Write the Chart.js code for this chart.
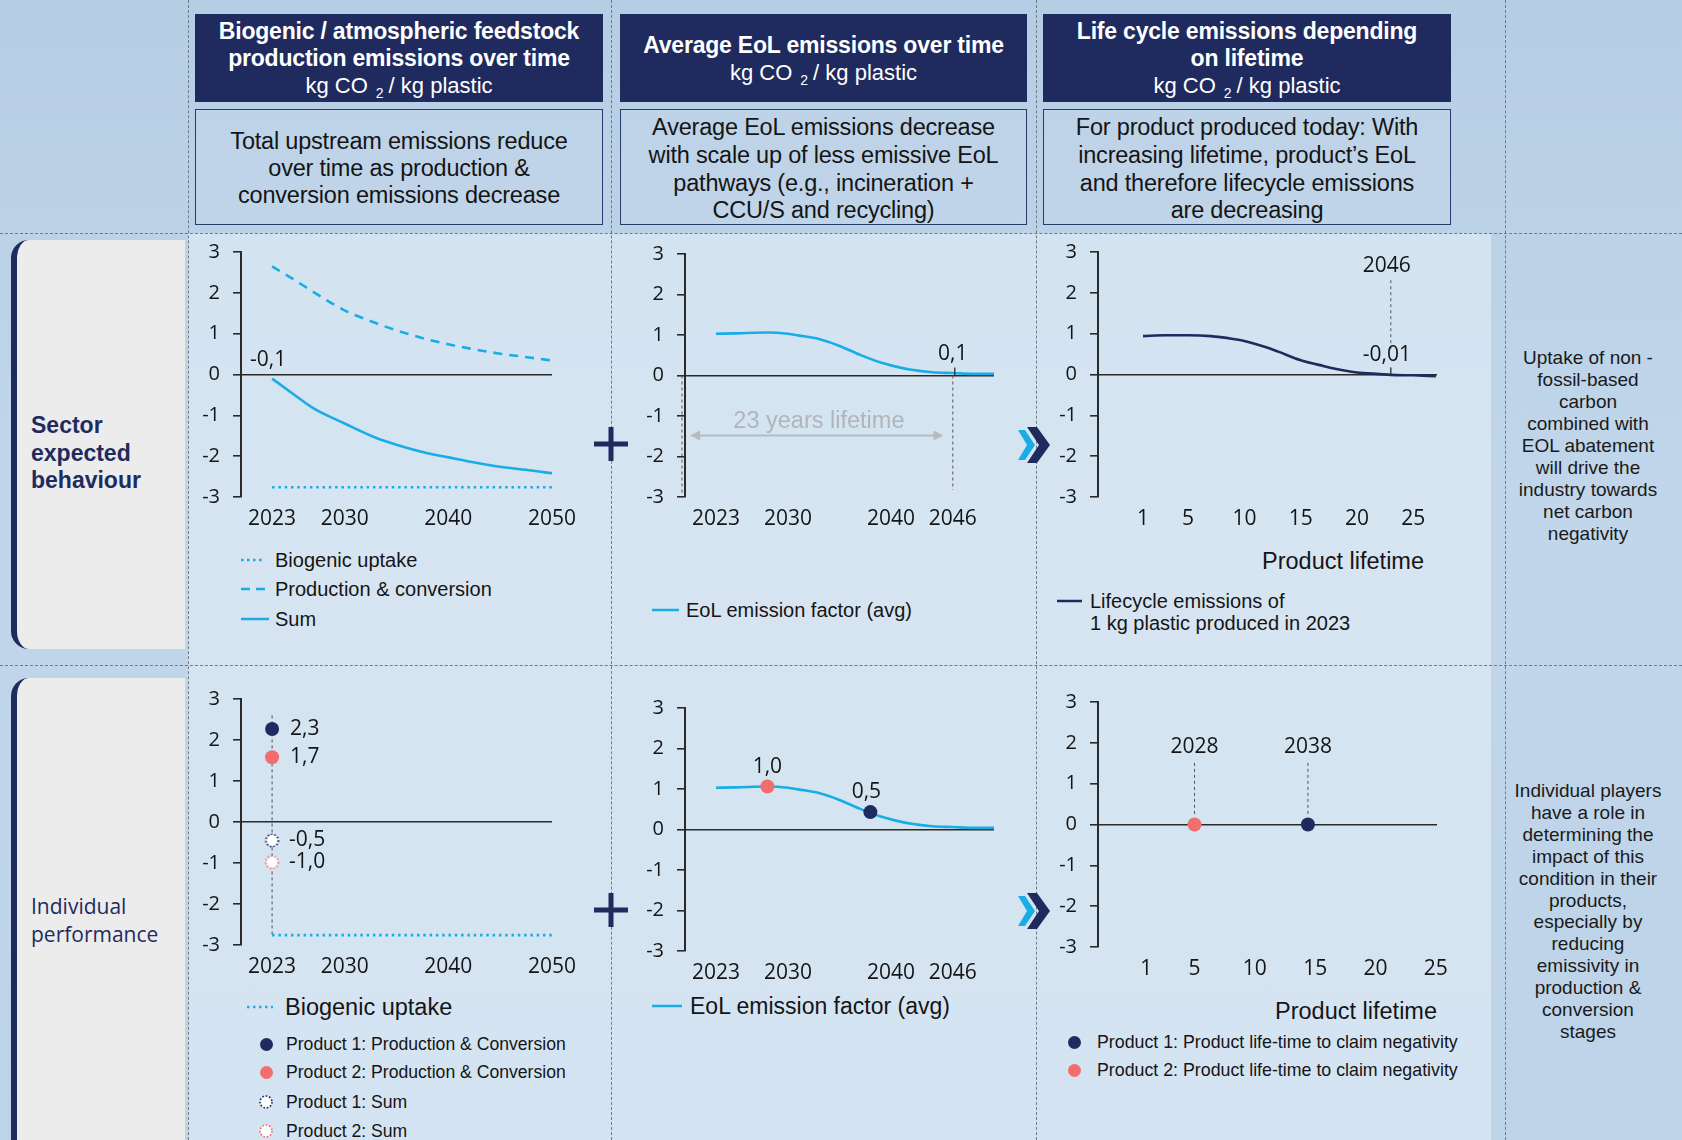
<!DOCTYPE html>
<html><head><meta charset="utf-8">
<title>Feedstock, EoL and lifecycle emissions</title>
<script src="https://cdn.jsdelivr.net/npm/chart.js@4.4.1/dist/chart.umd.min.js"></script>
<style>
html,body{margin:0;padding:0;}
body{width:1682px;height:1140px;overflow:hidden;position:relative;
 background:linear-gradient(180deg,#b6cee4 0%,#c1d6ea 45%,#bdd3e8 100%);
 font-family:'Liberation Sans',Arial,sans-serif;color:#151515;}
.a{position:absolute;white-space:nowrap;}
.panel{left:188px;top:233px;width:1303px;height:907px;background:rgba(236,243,249,0.5);}
.hl{height:0;border-top:1px dashed #6f7c88;left:0;width:1682px;}
.vl{width:0;border-left:1px dashed #6f7c88;top:0;height:1140px;}
.hdr{background:#1f2b5e;color:#fff;text-align:center;font-size:23px;line-height:27px;box-sizing:border-box;letter-spacing:-0.2px;}
.hdr b{font-weight:700;}
.hdr .u{font-size:22px;letter-spacing:0;}
.hdr sub{font-size:14px;vertical-align:-5px;line-height:0;margin:0 5px 0 8px;}
.desc{border:1.5px solid #2b3a6e;text-align:center;font-size:23.5px;line-height:27px;box-sizing:border-box;color:#151515;background:rgba(255,255,255,0.08);letter-spacing:-0.2px;}
.side{background:#ececed;border-left:6px solid #1f2b5e;border-radius:18px 0 0 18px;box-sizing:border-box;}
.lg{font-size:20px;line-height:24px;color:#151515;}
.note{left:1500px;width:176px;text-align:center;font-size:19px;line-height:22px;color:#1a1a1a;}
.dot{border-radius:50%;box-sizing:border-box;}
</style></head>
<body>
<div class="a panel"></div>

<!-- left side panels -->
<div class="a side" style="left:11px;top:240px;width:174px;height:409px;"></div>
<div class="a side" style="left:11px;top:678px;width:174px;height:480px;"></div>
<div class="a" style="left:31px;top:412px;font-weight:700;font-size:23px;line-height:27.5px;color:#1f2b5e;">Sector<br>expected<br>behaviour</div>
<div class="a" style="left:31px;top:892px;font-family:'Open Sans','Noto Sans',sans-serif;font-size:21px;line-height:28px;color:#1f2b5e;">Individual<br>performance</div>

<!-- separators -->
<div class="a hl" style="top:233px;"></div>
<div class="a hl" style="top:665px;"></div>
<div class="a vl" style="left:188px;"></div>
<div class="a vl" style="left:611px;"></div>
<div class="a vl" style="left:1036px;"></div>
<div class="a vl" style="left:1505px;"></div>

<!-- headers -->
<div class="a hdr" style="left:195px;top:14px;width:408px;height:88px;padding-top:4px;"><b>Biogenic / atmospheric feedstock</b><br><b>production emissions over time</b><br><span class="u">kg CO<sub>2</sub>/ kg plastic</span></div>
<div class="a hdr" style="left:620px;top:14px;width:407px;height:88px;padding-top:18px;"><b>Average EoL emissions over time</b><br><span class="u">kg CO<sub>2</sub>/ kg plastic</span></div>
<div class="a hdr" style="left:1043px;top:14px;width:408px;height:88px;padding-top:4px;"><b>Life cycle emissions depending</b><br><b>on lifetime</b><br><span class="u">kg CO<sub>2</sub>/ kg plastic</span></div>

<div class="a desc" style="left:195px;top:109px;width:408px;height:116px;padding-top:18px;">Total upstream emissions reduce<br>over time as production &amp;<br>conversion emissions decrease</div>
<div class="a desc" style="left:620px;top:109px;width:407px;height:116px;padding-top:4px;line-height:27.8px;">Average EoL emissions decrease<br>with scale up of less emissive EoL<br>pathways (e.g., incineration +<br>CCU/S and recycling)</div>
<div class="a desc" style="left:1043px;top:109px;width:408px;height:116px;padding-top:4px;line-height:27.8px;">For product produced today: With<br>increasing lifetime, product’s EoL<br>and therefore lifecycle emissions<br>are decreasing</div>

<!-- right notes -->
<div class="a note" style="top:347px;">Uptake of non -<br>fossil-based<br>carbon<br>combined with<br>EOL abatement<br>will drive the<br>industry towards<br>net carbon<br>negativity</div>
<div class="a note" style="top:780px;line-height:21.9px;">Individual players<br>have a role in<br>determining the<br>impact of this<br>condition in their<br>products,<br>especially by<br>reducing<br>emissivity in<br>production &amp;<br>conversion<br>stages</div>

<!-- plus signs and chevrons -->
<svg class="a" style="left:592px;top:425px;" width="38" height="38"><path d="M19 2 V36 M2 19 H36" stroke="#1f2b5e" stroke-width="5"/></svg>
<svg class="a" style="left:592px;top:891px;" width="38" height="38"><path d="M19 2 V36 M2 19 H36" stroke="#1f2b5e" stroke-width="5"/></svg>
<svg class="a" style="left:1018px;top:426px;" width="36" height="38"><polygon points="0,4 7,4 17,19 7,34 0,34 9,19" fill="#1aade5"/><polygon points="9,1 19,1 32,19 19,37 9,37 21,19" fill="#1f2b5e"/></svg>
<svg class="a" style="left:1018px;top:892px;" width="36" height="38"><polygon points="0,4 7,4 17,19 7,34 0,34 9,19" fill="#1aade5"/><polygon points="9,1 19,1 32,19 19,37 9,37 21,19" fill="#1f2b5e"/></svg>

<!-- legends: top row -->
<svg class="a" style="left:241px;top:557px;" width="28" height="6"><line x1="0" y1="3" x2="22" y2="3" stroke="#1aade5" stroke-width="2.5" stroke-dasharray="2.5 3.5"/></svg>
<div class="a lg" style="left:275px;top:548px;">Biogenic uptake</div>
<svg class="a" style="left:241px;top:586px;" width="28" height="6"><line x1="0" y1="3" x2="28" y2="3" stroke="#1aade5" stroke-width="2.5" stroke-dasharray="9 6"/></svg>
<div class="a lg" style="left:275px;top:577px;">Production &amp; conversion</div>
<svg class="a" style="left:241px;top:616px;" width="28" height="6"><line x1="0" y1="3" x2="28" y2="3" stroke="#1aade5" stroke-width="2.5"/></svg>
<div class="a lg" style="left:275px;top:607px;">Sum</div>

<svg class="a" style="left:652px;top:607px;" width="28" height="6"><line x1="0" y1="3" x2="27" y2="3" stroke="#1aade5" stroke-width="2.5"/></svg>
<div class="a lg" style="left:686px;top:598px;">EoL emission factor (avg)</div>

<div class="a" style="left:1224px;top:547px;width:200px;text-align:right;font-size:23.5px;line-height:28px;">Product lifetime</div>
<svg class="a" style="left:1057px;top:598px;" width="26" height="6"><line x1="0" y1="3" x2="25" y2="3" stroke="#1f2b5e" stroke-width="2.5"/></svg>
<div class="a lg" style="left:1090px;top:590px;line-height:22px;">Lifecycle emissions of<br>1 kg plastic produced in 2023</div>

<!-- legends: bottom row -->
<svg class="a" style="left:247px;top:1004px;" width="28" height="6"><line x1="0" y1="3" x2="26" y2="3" stroke="#1aade5" stroke-width="2.5" stroke-dasharray="2.5 3.5"/></svg>
<div class="a lg" style="left:285px;top:992px;font-size:23.5px;line-height:30px;">Biogenic uptake</div>
<div class="a dot" style="left:259.5px;top:1037.5px;width:13px;height:13px;background:#1f2b5e;"></div>
<div class="a lg" style="left:286px;top:1033px;font-size:17.6px;line-height:22px;">Product 1: Production &amp; Conversion</div>
<div class="a dot" style="left:259.5px;top:1065.5px;width:13px;height:13px;background:#f26e6e;"></div>
<div class="a lg" style="left:286px;top:1061px;font-size:17.6px;line-height:22px;">Product 2: Production &amp; Conversion</div>
<svg class="a" style="left:258px;top:1094px;" width="16" height="16"><circle cx="8" cy="8" r="6" fill="#fff" stroke="#1f2b5e" stroke-width="1.6" stroke-dasharray="1.7 1.7"/></svg>
<div class="a lg" style="left:286px;top:1091px;font-size:17.6px;line-height:22px;">Product 1: Sum</div>
<svg class="a" style="left:258px;top:1122.5px;" width="16" height="16"><circle cx="8" cy="8" r="6" fill="#fff" stroke="#f26e6e" stroke-width="1.6" stroke-dasharray="1.7 1.7"/></svg>
<div class="a lg" style="left:286px;top:1120px;font-size:17.6px;line-height:22px;">Product 2: Sum</div>

<svg class="a" style="left:652px;top:1003px;" width="31" height="6"><line x1="0" y1="3" x2="30" y2="3" stroke="#1aade5" stroke-width="2.5"/></svg>
<div class="a lg" style="left:690px;top:991px;font-size:23px;line-height:30px;">EoL emission factor (avg)</div>

<div class="a" style="left:1237px;top:997px;width:200px;text-align:right;font-size:23.5px;line-height:28px;">Product lifetime</div>
<div class="a dot" style="left:1067.5px;top:1035.5px;width:13px;height:13px;background:#1f2b5e;"></div>
<div class="a lg" style="left:1097px;top:1031px;font-size:17.8px;line-height:22px;">Product 1: Product life-time to claim negativity</div>
<div class="a dot" style="left:1067.5px;top:1063.5px;width:13px;height:13px;background:#f26e6e;"></div>
<div class="a lg" style="left:1097px;top:1059px;font-size:17.8px;line-height:22px;">Product 2: Product life-time to claim negativity</div>

<script>
// ---------------- data ----------------
const valueTicks = [-3, -2, -1, 0, 1, 2, 3];
const yearTicks = [2023, 2030, 2040, 2050];
const eolYearTicks = [2023, 2030, 2040, 2046];
const lifetimeTicks = [1, 5, 10, 15, 20, 25];

// Sector: biogenic / atmospheric feedstock
const feedYears = [2023, 2025, 2027, 2030, 2033, 2035, 2038, 2040, 2042, 2045, 2048, 2050];
const productionConversion = [2.65, 2.34, 2.02, 1.57, 1.26, 1.08, 0.86, 0.74, 0.64, 0.51, 0.41, 0.34];
const sumEmissions = [-0.1, -0.47, -0.83, -1.2, -1.55, -1.72, -1.93, -2.03, -2.13, -2.26, -2.35, -2.42];
const biogenicYears = [2023, 2050];
const biogenicUptake = [-2.76, -2.76];
const sumStartLabel = '-0,1';

// Sector: average EoL emissions
const eolYears = [2023, 2025, 2028, 2030, 2031, 2033, 2035, 2037, 2039, 2040, 2042, 2044, 2046, 2048, 2050];
const eolFactor = [1.03, 1.04, 1.06, 1.03, 0.99, 0.9, 0.73, 0.51, 0.32, 0.25, 0.14, 0.08, 0.06, 0.04, 0.04];
const eolMarkYear = 2046;
const eolMarkLabel = '0,1';
const lifetimeSpanLabel = '23 years lifetime';

// Sector: lifecycle emissions by lifetime
const lifetimes = [1, 3, 5, 7, 9, 10, 12, 13, 15, 17, 19, 20, 22, 23, 25, 27];
const lifecycleEmissions = [0.94, 0.96, 0.96, 0.94, 0.87, 0.82, 0.66, 0.56, 0.35, 0.21, 0.09, 0.05, 0.01, -0.01, -0.02, -0.04];
const lifecycleMarkLifetime = 23;
const lifecycleMarkYear = '2046';
const lifecycleMarkLabel = '-0,01';

// Individual performance (Product 1, Product 2)
const productYear = 2023;
const productPC = [2.27, 1.58];
const productPCLabels = ['2,3', '1,7'];
const productSum = [-0.45, -0.98];
const productSumLabels = ['-0,5', '-1,0'];
const productEolYears = [2038, 2028];
const productEolValues = [0.43, 1.06];
const productEolLabels = ['0,5', '1,0'];
const negativityLifetimes = [14.4, 5];
const negativityYears = ['2038', '2028'];

// ---------------- styling ----------------
const NAVY = '#1f2b5e', CYAN = '#1aade5', SALMON = '#f26e6e', AXIS = '#2a2a2a', GUIDE = '#555';
const productColors = [NAVY, SALMON];
const TICK_FONT = {family: "'Open Sans','Noto Sans',sans-serif", size: 21};
const NOTE_FONT = "21px 'Open Sans','Noto Sans',sans-serif";
const pts = (xs, ys) => xs.map((x, i) => ({x, y: ys[i]}));

function dottedCircle(color, r) {
  const s = Math.ceil(r * 2 + 4);
  const c = document.createElement('canvas');
  c.width = s; c.height = s;
  const g = c.getContext('2d');
  g.beginPath(); g.arc(s / 2, s / 2, r, 0, Math.PI * 2);
  g.fillStyle = '#fff'; g.fill();
  g.setLineDash([1.7, 1.7]); g.lineWidth = 1.6; g.strokeStyle = color; g.stroke();
  return c;
}

function drawNotes(chart, items, layer) {
  const {ctx} = chart; const x = chart.scales.x, y = chart.scales.y;
  (items || []).forEach(it => {
    if ((it.layer || 'front') !== layer) return;
    ctx.save();
    if (it.type === 'vline') {
      const px = x.getPixelForValue(it.x) + (it.dx || 0);
      ctx.strokeStyle = it.color || GUIDE; ctx.lineWidth = it.width || 1.2;
      ctx.setLineDash(it.dash || []);
      ctx.beginPath();
      ctx.moveTo(px, y.getPixelForValue(it.y1) + (it.dy1 || 0));
      ctx.lineTo(px, y.getPixelForValue(it.y2) + (it.dy2 || 0));
      ctx.stroke();
    } else if (it.type === 'text') {
      ctx.font = it.font || NOTE_FONT; ctx.fillStyle = it.color || '#151515';
      ctx.textAlign = it.align || 'center'; ctx.textBaseline = 'middle';
      ctx.fillText(it.text, x.getPixelForValue(it.x) + (it.dx || 0), y.getPixelForValue(it.y) + (it.dy || 0));
    } else if (it.type === 'arrow') {
      const x1 = x.getPixelForValue(it.x1), x2 = x.getPixelForValue(it.x2), py = y.getPixelForValue(it.y);
      ctx.strokeStyle = it.color; ctx.fillStyle = it.color; ctx.lineWidth = 2;
      ctx.beginPath(); ctx.moveTo(x1 + 8, py); ctx.lineTo(x2 - 8, py); ctx.stroke();
      ctx.beginPath(); ctx.moveTo(x1, py); ctx.lineTo(x1 + 10, py - 5); ctx.lineTo(x1 + 10, py + 5); ctx.closePath(); ctx.fill();
      ctx.beginPath(); ctx.moveTo(x2, py); ctx.lineTo(x2 - 10, py - 5); ctx.lineTo(x2 - 10, py + 5); ctx.closePath(); ctx.fill();
    }
    ctx.restore();
  });
}
const notesPlugin = {
  id: 'notes',
  beforeDatasetsDraw(chart, args, opts) { drawNotes(chart, opts.items, 'back'); },
  afterDatasetsDraw(chart, args, opts) { drawNotes(chart, opts.items, 'front'); }
};

function makeChart(area, xMin, xMax, xTicks, datasets, notes) {
  const Y_W = 61, PAD_T = 32, PAD_R = 42, X_H = 40;
  const rect = {x: area.l - Y_W, y: area.t - PAD_T, w: area.r + PAD_R - (area.l - Y_W), h: area.b + X_H - (area.t - PAD_T)};
  const c = document.createElement('canvas');
  c.width = rect.w; c.height = rect.h;
  c.style.cssText = `position:absolute;left:${rect.x}px;top:${rect.y}px;width:${rect.w}px;height:${rect.h}px;`;
  document.body.appendChild(c);
  return new Chart(c, {
    type: 'line',
    data: {datasets},
    plugins: [notesPlugin],
    options: {
      responsive: false, animation: false, devicePixelRatio: 1,
      layout: {padding: {left: 0, top: PAD_T, right: PAD_R, bottom: 0}},
      plugins: {legend: {display: false}, tooltip: {enabled: false}, notes: {items: notes}},
      elements: {line: {fill: false}},
      scales: {
        x: {type: 'linear', min: xMin, max: xMax,
          grid: {display: false, drawTicks: false}, border: {display: false},
          afterBuildTicks: s => { s.ticks = xTicks.map(v => ({value: v})); },
          afterFit: s => { s.height = X_H; },
          ticks: {autoSkip: false, maxRotation: 0, padding: 9, color: '#151515', font: TICK_FONT, callback: v => String(v)}},
        y: {type: 'linear', min: -3, max: 3,
          afterBuildTicks: s => { s.ticks = valueTicks.map(v => ({value: v})); },
          afterFit: s => { s.width = Y_W; },
          grid: {drawOnChartArea: true, drawTicks: true, tickLength: 8, lineWidth: 1.6,
            color: ctx => (ctx.tick && ctx.tick.value === 0) ? AXIS : 'rgba(0,0,0,0)', tickColor: AXIS},
          border: {display: true, color: AXIS, width: 2},
          ticks: {padding: 13, color: '#151515', font: {family: TICK_FONT.family, size: 20}}}
      }
    }
  });
}

const lineDs = (xs, ys, color, dash) => ({data: pts(xs, ys), borderColor: color, borderWidth: 2.6,
  borderDash: dash || [], pointRadius: 0, cubicInterpolationMode: 'monotone', fill: false});

// 1. Sector: feedstock
makeChart({l: 241, t: 252, r: 552, b: 497}, 2020, 2050, yearTicks, [
  lineDs(biogenicYears, biogenicUptake, CYAN, [2.5, 3.8]),
  lineDs(feedYears, productionConversion, CYAN, [9, 7]),
  lineDs(feedYears, sumEmissions, CYAN)
], [
  {type: 'text', x: feedYears[0], y: 0, dx: -4, dy: -14, text: sumStartLabel}
]);

// 2. Sector: EoL
makeChart({l: 685, t: 254, r: 994, b: 497}, 2020, 2050, eolYearTicks, [
  lineDs(eolYears, eolFactor, CYAN)
], [
  {type: 'vline', x: 2020, dx: -3, y1: 0, y2: -2.9, dash: [3, 3], width: 1},
  {type: 'vline', x: eolMarkYear, y1: 0, y2: -2.83, dash: [3, 3], width: 1},
  {type: 'vline', x: eolMarkYear, dx: 2, y1: 0, y2: 0, dy2: -8, width: 1.3, color: AXIS},
  {type: 'text', x: eolMarkYear, y: 0, dy: -21, text: eolMarkLabel},
  {type: 'arrow', x1: 2020.5, x2: 2045.1, y: -1.48, color: '#b6bbc0'},
  {type: 'text', x: 2033, y: -1.48, dy: -14, text: lifetimeSpanLabel, color: '#b0b5ba', font: "23.5px 'Liberation Sans',Arial,sans-serif"}
]);

// 3. Sector: lifecycle
makeChart({l: 1098, t: 252, r: 1437, b: 497}, -3, 27.1, lifetimeTicks, [
  lineDs(lifetimes, lifecycleEmissions, NAVY)
], [
  {type: 'vline', x: lifecycleMarkLifetime, y1: 0.62, y2: 2.38, dash: [3, 3], width: 1},
  {type: 'vline', x: lifecycleMarkLifetime, y1: 0, y2: 0, dy2: -7, width: 1.3, color: AXIS},
  {type: 'text', x: lifecycleMarkLifetime, y: 2.38, dx: -4, dy: -11, text: lifecycleMarkYear},
  {type: 'text', x: lifecycleMarkLifetime, y: 0, dx: -4, dy: -19, text: lifecycleMarkLabel}
]);

// 4. Individual: production & conversion vs sum
const indivNotes = [{type: 'vline', layer: 'back', x: productYear, y1: 2.6, y2: biogenicUptake[0], dash: [3, 3], width: 1.2, color: '#666'}];
productPC.forEach((v, i) => indivNotes.push({type: 'text', x: productYear, y: v, dx: 18, text: productPCLabels[i], align: 'left'}));
productSum.forEach((v, i) => indivNotes.push({type: 'text', x: productYear, y: v, dx: 17, text: productSumLabels[i], align: 'left'}));
makeChart({l: 241, t: 699, r: 552, b: 945}, 2020, 2050, yearTicks, [
  ...productPC.map((v, i) => ({data: [{x: productYear, y: v}], showLine: false, pointRadius: 7,
    pointBackgroundColor: productColors[i], pointBorderWidth: 0, order: 0})),
  ...productSum.map((v, i) => ({data: [{x: productYear, y: v}], showLine: false, pointRadius: 7,
    pointStyle: dottedCircle(productColors[i], 6.2), order: 0})),
  Object.assign(lineDs(biogenicYears, biogenicUptake, CYAN, [2.5, 3.8]), {order: 5})
], indivNotes);

// 5. Individual: EoL
const eolNotes = productEolYears.map((yr, i) => ({type: 'text', x: yr, y: productEolValues[i], dx: i === 0 ? -4 : 0, dy: -20, text: productEolLabels[i]}));
makeChart({l: 685, t: 708, r: 994, b: 951}, 2020, 2050, eolYearTicks, [
  ...productEolYears.map((yr, i) => ({data: [{x: yr, y: productEolValues[i]}], showLine: false, pointRadius: 7,
    pointBackgroundColor: productColors[i], pointBorderWidth: 0, order: 0})),
  Object.assign(lineDs(eolYears, eolFactor, CYAN), {order: 5})
], eolNotes);

// 6. Individual: lifetime to claim negativity
const negNotes = [];
negativityLifetimes.forEach((lt, i) => {
  negNotes.push({type: 'vline', x: lt, y1: 0.26, y2: 1.52, dash: [3, 3], width: 1});
  negNotes.push({type: 'text', x: lt, y: 1.9, text: negativityYears[i]});
});
makeChart({l: 1098, t: 702, r: 1437, b: 947}, -3, 25.1, lifetimeTicks,
  negativityLifetimes.map((lt, i) => ({data: [{x: lt, y: 0}], showLine: false, pointRadius: 7,
    pointBackgroundColor: productColors[i], pointBorderWidth: 0})),
  negNotes);
</script>
</body></html>
